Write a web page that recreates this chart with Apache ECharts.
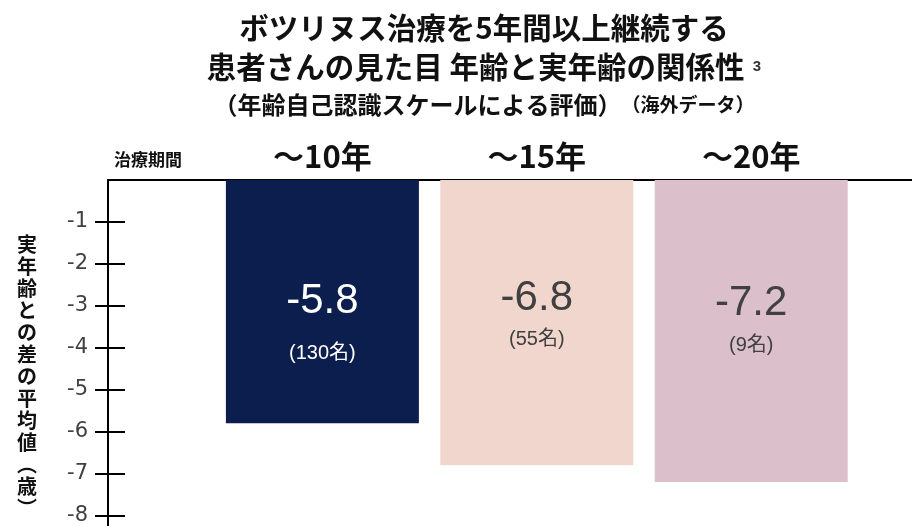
<!DOCTYPE html>
<html><head><meta charset="utf-8">
<script src="https://cdn.jsdelivr.net/npm/echarts@6/dist/echarts.min.js"></script>
<style>html,body{margin:0;padding:0;background:#fff}#c{width:912px;height:526px}</style>
</head><body><div id="c"></div>
<script>
var categories = ['～10年', '～15年', '～20年'];
var values = [-5.8, -6.8, -7.2];
var counts = ['(130名)', '(55名)', '(9名)'];
var yTicks = [-1, -2, -3, -4, -5, -6, -7, -8];
var barColors = ['#0c1e4d', '#f1d6cd', '#dbbfcb'];
var labelColors = ['#ffffff', '#404040', '#404040'];
var countGap = [52, 41, 42];
var valueY = [0, -3, 2];

var FONT_JP = '"Noto Sans CJK JP", sans-serif';
var chart = echarts.init(document.getElementById('c'));

var data = values.map(function (v, i) {
  return {
    value: [i + 1, v],
    itemStyle: { color: barColors[i] },
    label: {
      show: true,
      position: 'insideTop',
      distance: 100 + valueY[i],
      formatter: '{a|' + v.toFixed(1) + '}\n{b|' + counts[i] + '}',
      rich: {
        a: { fontSize: 42, fontFamily: 'Liberation Sans, Arial, sans-serif', color: labelColors[i], lineHeight: 42, align: 'center' },
        b: { fontSize: 20, fontFamily: 'Liberation Sans, Arial, ' + FONT_JP, color: labelColors[i], lineHeight: 2 * countGap[i] - 42, align: 'center' }
      }
    }
  };
});

var yName = '実年齢との差の平均値︵歳︶'.split('').join('\n');

chart.setOption({
  animation: false,
  title: [
    {
      text: '{t|ボツリヌス治療を5年間以上継続する}\n{t|患者さんの見た目 年齢と実年齢の関係性}{s|  3}\n{u|（年齢自己認識スケールによる評価）}{v|（海外データ）}',
      left: 479, top: 3, textAlign: 'center',
      textStyle: {
        rich: {
          t: { fontSize: 29.5, fontWeight: 'bold', fontFamily: FONT_JP, color: '#111', lineHeight: 39 },
          s: { fontSize: 15, fontFamily: 'Liberation Sans, Arial, sans-serif', color: '#333', lineHeight: 39 },
          u: { fontSize: 24, fontFamily: FONT_JP, color: '#111', lineHeight: 38 },
          v: { fontSize: 19, fontFamily: FONT_JP, color: '#111', lineHeight: 38 }
        }
      }
    },
    {
      text: '治療期間', left: 109, top: 146,
      textStyle: { fontSize: 17, fontWeight: 'bold', fontFamily: FONT_JP, color: '#111' }
    },
    {
      text: yName, left: 12, top: 228,
      textStyle: { fontSize: 20, fontWeight: 'bold', fontFamily: FONT_JP, color: '#111', lineHeight: 22 }
    }
  ],
  grid: { left: 108, right: 0, top: 180, bottom: 0, outerBoundsMode: 'none', containLabel: false },
  xAxis: {
    type: 'value', position: 'top', min: 0, max: 3.75,
    splitLine: { show: false },
    axisLine: { show: true, lineStyle: { color: '#000', width: 2 } },
    axisTick: { show: false },
    axisLabel: {
      customValues: [1, 2, 3],
      formatter: function (v) { return categories[Math.round(v) - 1] || ''; },
      fontSize: 31, fontWeight: 'bold', fontFamily: FONT_JP, color: '#111', margin: 8
    }
  },
  yAxis: [
    {
      type: 'value', min: -8.25, max: 0,
      splitLine: { show: false },
      axisLine: { show: true, lineStyle: { color: '#000', width: 2 } },
      axisTick: { show: false },
      axisLabel: { customValues: yTicks, fontSize: 21, fontFamily: 'DejaVu Sans, sans-serif', color: '#404040', margin: 20 }
    },
    {
      type: 'value', min: -8.25, max: 0, position: 'left', offset: -17,
      splitLine: { show: false },
      axisLine: { show: false },
      axisTick: { show: true, customValues: yTicks, length: 30, lineStyle: { color: '#000', width: 2 } },
      axisLabel: { show: false }
    }
  ],
  series: [{
    type: 'bar', data: data, barWidth: 193, yAxisIndex: 0
  }]
});
</script></body></html>
